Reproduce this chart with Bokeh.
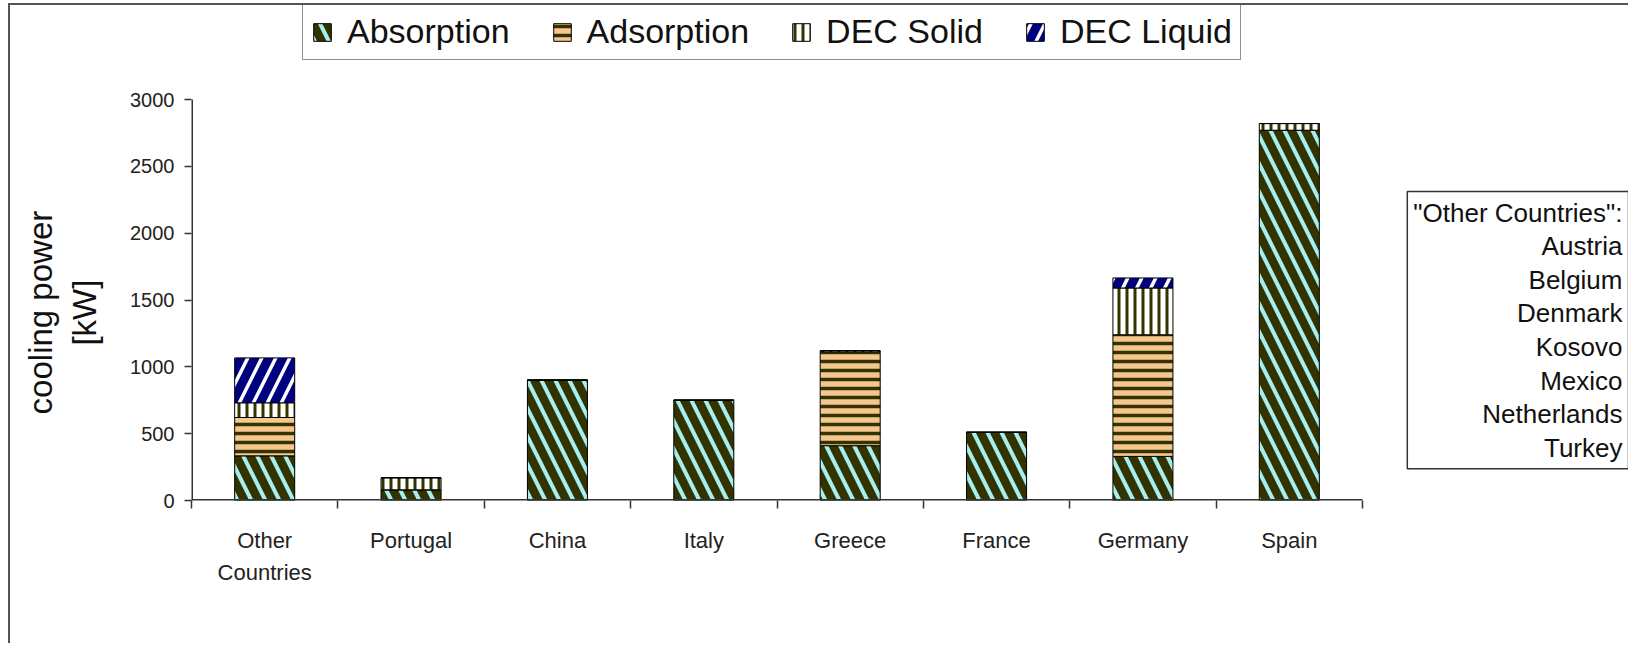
from bokeh.plotting import figure
from bokeh.models import (Range1d, FixedTicker, Label, ColumnDataSource,
                          Legend, LegendItem)
from bokeh.embed import file_html
from bokeh.resources import INLINE

# ---- data ----
categories = ["Other\nCountries", "Portugal", "China", "Italy", "Greece",
              "France", "Germany", "Spain"]
series = ["Absorption", "Adsorption", "DEC Solid", "DEC Liquid"]
absorption = [334, 80, 900, 750, 410, 510, 330, 2770]
adsorption = [287, 0, 0, 0, 700, 0, 910, 0]
dec_solid = [110, 90, 0, 0, 10, 0, 350, 50]
dec_liquid = [336, 0, 0, 0, 0, 0, 75, 0]
y_ticks = [0, 500, 1000, 1500, 2000, 2500, 3000]
other_countries = ["Austria", "Belgium", "Denmark", "Kosovo", "Mexico",
                   "Netherlands", "Turkey"]

FONT = "Liberation Sans"
n = len(categories)
idx = list(range(n))

source = ColumnDataSource(data={
    "x": idx,
    "Absorption": absorption,
    "Adsorption": adsorption,
    "DEC Solid": dec_solid,
    "DEC Liquid": dec_liquid,
})

# ---- layout (pixels) ----
W, H = 1620, 640
LEFT, BOTTOM = 181, 145          # borders holding the axes
AXIS_W, AXIS_H = 1171, 401       # pixel extent of the category axis / 0..3000
frame_w = W - LEFT
frame_h = H - BOTTOM
x_start = -0.5
x_end = x_start + n * frame_w / AXIS_W
y_end = y_ticks[-1] * frame_h / AXIS_H

p = figure(x_range=Range1d(x_start, x_end), y_range=Range1d(0, y_end),
           width=W, height=H, output_backend="svg", toolbar_location=None,
           min_border_left=LEFT, min_border_right=0,
           min_border_top=0, min_border_bottom=BOTTOM)
p.xgrid.visible = False
p.ygrid.visible = False
p.outline_line_color = None
p.background_fill_color = "white"
p.border_fill_color = "white"
p.styles = {"border-left": "2px solid #555", "border-top": "2px solid #555",
            "margin-left": "8px", "margin-top": "3px"}

renderers = p.vbar_stack(series, x="x", width=0.41, source=source,
                         fill_color=["#333300", "#f5c78e", "#ffffff", "#000080"],
                         hatch_color=["#a6eef0", "#333300", "#333300", "#ffffff"],
                         hatch_pattern=["\\", "-", "|", "/"],
                         hatch_scale=[28, 9, 8, 28],
                         hatch_weight=[4, 3.5, 3, 3.5],
                         line_color="black", line_width=1)

# axis lines limited to the data extent (0..3000, first..last category)
p.segment(x0=[x_start], y0=[y_ticks[0]], x1=[x_start], y1=[y_ticks[-1]],
          line_color="#333333", line_width=3)
p.segment(x0=[x_start], y0=[y_ticks[0]], x1=[x_start + n], y1=[y_ticks[0]],
          line_color="#333333", line_width=3)

# y axis
ya = p.yaxis[0]
ya.ticker = FixedTicker(ticks=y_ticks)
ya.major_tick_out = 7
ya.major_tick_in = 0
ya.minor_tick_line_color = None
ya.axis_line_color = None
ya.major_tick_line_color = "#333333"
ya.major_tick_line_width = 1.5
ya.major_label_text_font = FONT
ya.major_label_text_font_size = "20px"
ya.major_label_text_color = "#222222"
ya.major_label_standoff = 10
pad = "\u00a0" * 13
ya.axis_label = "cooling power" + pad + "\n[kW]" + pad
ya.axis_label_text_font = FONT
ya.axis_label_text_font_size = "33px"
ya.axis_label_text_font_style = "normal"
ya.axis_label_text_color = "#111111"
ya.axis_label_standoff = 24

# x axis: labels at bar centres, ticks at category boundaries
xa = p.xaxis[0]
xa.ticker = FixedTicker(ticks=idx, minor_ticks=[i - 0.5 for i in range(n + 1)])
xa.major_label_overrides = {i: c for i, c in zip(idx, categories)}
xa.major_tick_line_color = None
xa.minor_tick_out = 8
xa.minor_tick_in = 0
xa.minor_tick_line_color = "#333333"
xa.minor_tick_line_width = 1.5
xa.axis_line_color = None
xa.major_label_text_font = FONT
xa.major_label_text_font_size = "22px"
xa.major_label_text_line_height = 1.3
xa.major_label_text_color = "#222222"
xa.major_label_standoff = 19

# legend (inside the frame, above the plotted data)
lg = Legend(items=[LegendItem(label=s, renderers=[r]) for s, r in zip(series, renderers)],
            orientation="horizontal", location=(111, frame_h - 55),
            label_text_font=FONT, label_text_font_size="34px",
            label_text_color="#111111", glyph_width=22, glyph_height=22,
            label_standoff=14, spacing=41, padding=8, margin=0,
            border_line_color="#222222", border_line_width=1.5,
            background_fill_alpha=1.0)
p.add_layout(lg)

# side note box
note = Label(x=frame_w - 2, y=frame_h - 186, x_units="screen", y_units="screen",
             text="\"Other Countries\":\n" + "\n".join(other_countries),
             text_align="right", text_baseline="top",
             text_font=FONT, text_font_size="26px", text_line_height=1.12,
             text_color="#111111",
             border_line_color="#333333", border_line_width=1.5,
             background_fill_color="white", background_fill_alpha=1.0,
             padding=6)
p.add_layout(note)

open("out.html", "w").write(file_html(p, INLINE))
